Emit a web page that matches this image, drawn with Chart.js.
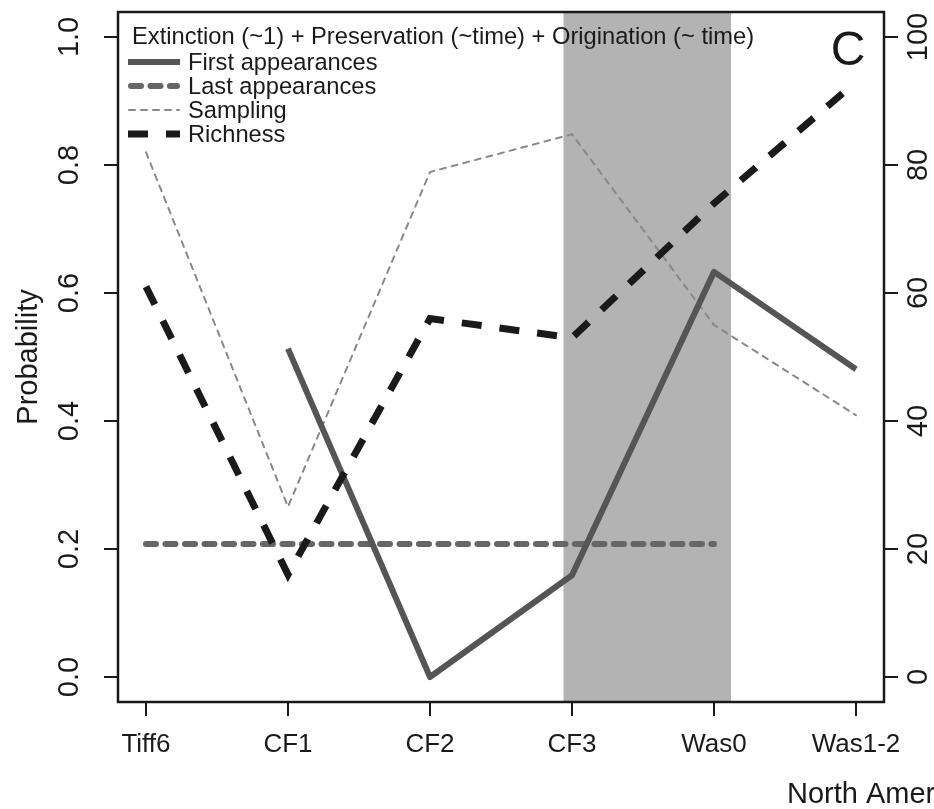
<!DOCTYPE html>
<html>
<head>
<meta charset="utf-8">
<script src="https://cdn.jsdelivr.net/npm/chart.js@4.4.1/dist/chart.umd.min.js"></script>
<style>
  body { margin: 0; background: #fff; }
  canvas { display: block; }
</style>
</head>
<body>
<canvas id="g-prob" width="934" height="809"></canvas>
<script>
var categories = ['Tiff6', 'CF1', 'CF2', 'CF3', 'Was0', 'Was1-2'];
var firstApp = [null, 0.513, 0.0, 0.159, 0.633, 0.481];
var lastApp = [0.208, 0.208, 0.208, 0.208, 0.208, null];
var sampling = [0.82, 0.266, 0.789, 0.848, 0.55, 0.409];
var richness = [61, 16, 56, 53, 74, 93];
var probTicks = [0, 0.2, 0.4, 0.6, 0.8, 1.0];
var richTicks = [0, 20, 40, 60, 80, 100];
var bandStart = 2.94;
var bandEnd = 4.12;

var legendTitle = 'Extinction (~1) + Preservation (~time) + Origination (~ time)';
var FONT = '"Liberation Sans", Arial, Helvetica, sans-serif';

function pts(arr) {
    return arr.map(function (v, i) { return { x: i, y: v }; });
}

// grey band behind the lines
var bandPlugin = {
    id: 'band',
    beforeDatasetsDraw: function (chart) {
        var ctx = chart.ctx, a = chart.chartArea, x = chart.scales.x;
        var x0 = x.getPixelForValue(bandStart);
        var x1 = x.getPixelForValue(bandEnd);
        ctx.save();
        ctx.fillStyle = '#b3b3b3';
        ctx.fillRect(x0, a.top, x1 - x0, a.bottom - a.top);
        ctx.restore();
    }
};

// box, legend, panel letter, x title
var extrasPlugin = {
    id: 'extras',
    afterDraw: function (chart) {
        var ctx = chart.ctx, a = chart.chartArea;
        ctx.save();
        ctx.strokeStyle = '#1a1a1a';
        ctx.lineWidth = 2.5;
        ctx.strokeRect(a.left, a.top, a.right - a.left, a.bottom - a.top);

        ctx.fillStyle = '#1a1a1a';
        ctx.textBaseline = 'alphabetic';
        ctx.textAlign = 'left';
        ctx.font = '23.7px ' + FONT;
        ctx.fillText(legendTitle, 132, 44);

        var ds = chart.data.datasets;
        for (var i = 0; i < ds.length; i++) {
            var base = 70 + i * 24;
            ctx.save();
            ctx.strokeStyle = ds[i].borderColor;
            ctx.lineWidth = ds[i].borderWidth;
            ctx.setLineDash(ds[i].borderDash || []);
            ctx.lineCap = ds[i].borderCapStyle || 'butt';
            var inset = ctx.lineCap === 'round' ? ds[i].borderWidth / 2 : 0;
            ctx.beginPath();
            ctx.moveTo(128 + inset, base - 8);
            ctx.lineTo(180 - inset, base - 8);
            ctx.stroke();
            ctx.restore();
            ctx.fillText(ds[i].label, 188, base);
        }

        ctx.textAlign = 'center';
        ctx.font = '48px ' + FONT;
        ctx.fillText('C', 848, 65);

        ctx.textAlign = 'left';
        ctx.font = '29px ' + FONT;
        ctx.fillText('North America', 787, 803);
        ctx.restore();
    }
};

function noPad(s) {
    s.paddingTop = 0;
    s.paddingBottom = 0;
}

var ctxProb = document.getElementById('g-prob');

var gProb = new Chart(ctxProb, {
    type: 'line',
    data: {
        datasets: [
            {
                label: 'First appearances',
                data: pts(firstApp),
                yAxisID: 'y',
                borderColor: '#555555',
                borderWidth: 6,
                borderJoinStyle: 'round',
                order: 2
            },
            {
                label: 'Last appearances',
                data: pts(lastApp),
                yAxisID: 'y',
                borderColor: '#666666',
                borderWidth: 6,
                borderDash: [10, 9.5],
                borderCapStyle: 'round',
                order: 3
            },
            {
                label: 'Sampling',
                data: pts(sampling),
                yAxisID: 'y',
                borderColor: '#888888',
                borderWidth: 2,
                borderDash: [6, 6],
                borderCapStyle: 'round',
                order: 4
            },
            {
                label: 'Richness',
                data: pts(richness),
                yAxisID: 'y1',
                borderColor: '#1a1a1a',
                borderWidth: 7,
                borderDash: [20, 18],
                order: 1
            }
        ]
    },
    options: {
        responsive: false,
        animation: false,
        layout: { padding: { top: 12, left: 0, right: 0, bottom: 0 } },
        elements: {
            point: { radius: 0 },
            line: { tension: 0, fill: false }
        },
        plugins: {
            legend: { display: false },
            tooltip: { enabled: false }
        },
        scales: {
            x: {
                type: 'linear',
                min: -0.197,
                max: 5.197,
                afterBuildTicks: function (s) {
                    s.ticks = categories.map(function (c, i) { return { value: i }; });
                },
                afterFit: function (s) { s.height = 107; s.paddingLeft = 0; s.paddingRight = 0; },
                border: { display: false },
                grid: { drawOnChartArea: false, tickLength: 14, color: '#1a1a1a', lineWidth: 2 },
                ticks: {
                    autoSkip: false,
                    maxRotation: 0,
                    padding: 13,
                    color: '#1a1a1a',
                    font: { family: FONT, size: 26 },
                    callback: function (v) { return categories[v]; }
                }
            },
            y: {
                position: 'left',
                min: -0.039,
                max: 1.039,
                afterBuildTicks: function (s) {
                    s.ticks = probTicks.map(function (v) { return { value: v }; });
                },
                afterFit: function (s) { s.width = 118; noPad(s); },
                border: { display: false },
                grid: { drawOnChartArea: false, tickLength: 14, color: '#1a1a1a', lineWidth: 2 },
                title: {
                    display: true,
                    text: 'Probability',
                    color: '#1a1a1a',
                    font: { family: FONT, size: 29 },
                    padding: { top: 12, bottom: 0 }
                },
                ticks: {
                    minRotation: 90,
                    maxRotation: 90,
                    crossAlign: 'center',
                    padding: 14,
                    color: '#1a1a1a',
                    font: { family: FONT, size: 29 },
                    callback: function (v) { return v.toFixed(1); }
                }
            },
            y1: {
                position: 'right',
                min: -3.9,
                max: 103.9,
                afterBuildTicks: function (s) {
                    s.ticks = richTicks.map(function (v) { return { value: v }; });
                },
                afterFit: function (s) { s.width = 50; noPad(s); },
                border: { display: false },
                grid: { drawOnChartArea: false, tickLength: 14, color: '#1a1a1a', lineWidth: 2 },
                ticks: {
                    minRotation: 90,
                    maxRotation: 90,
                    crossAlign: 'center',
                    padding: -3,
                    color: '#1a1a1a',
                    font: { family: FONT, size: 29 }
                }
            }
        }
    },
    plugins: [bandPlugin, extrasPlugin]
});
</script>
</body>
</html>
